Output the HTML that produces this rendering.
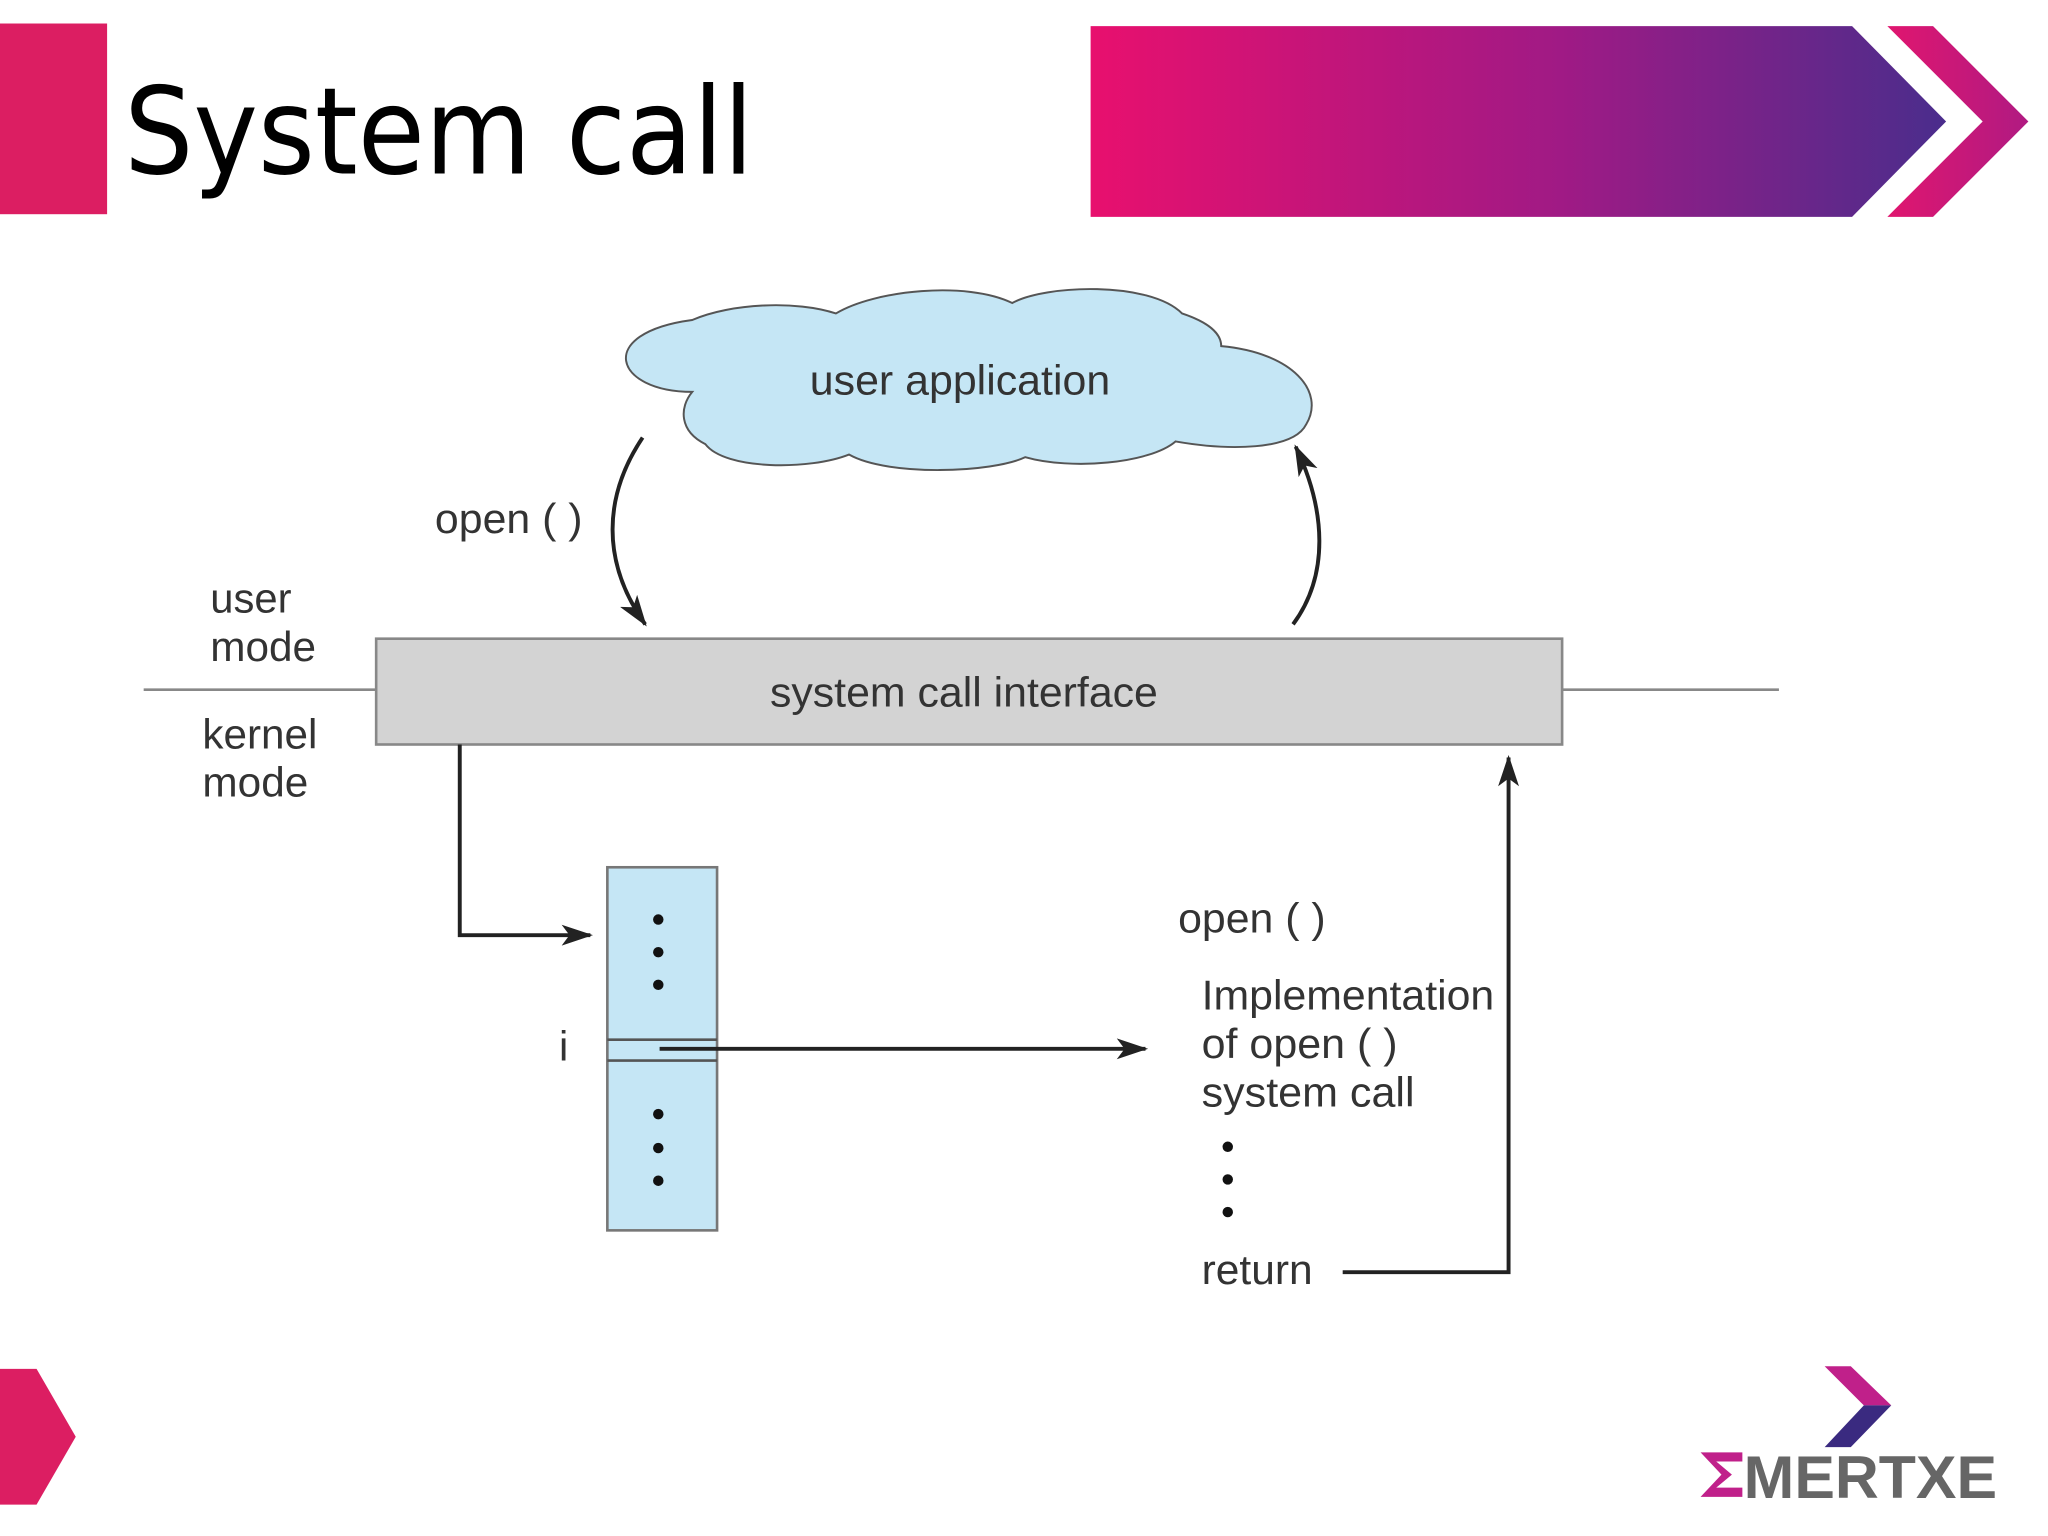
<!DOCTYPE html>
<html><head><meta charset="utf-8"><style>html,body{margin:0;padding:0;background:#fff}svg{display:block}</style></head>
<body>
<svg width="2048" height="1536" viewBox="0 0 1568 1176" xmlns="http://www.w3.org/2000/svg" font-family="Liberation Sans, DejaVu Sans, sans-serif">
<defs>
<linearGradient id="g" x1="0" x2="1" y1="0" y2="0"><stop offset="0" stop-color="#e8106e"/><stop offset="0.55" stop-color="#a01a85"/><stop offset="1" stop-color="#4a2d8c"/></linearGradient>
<linearGradient id="g2" x1="0" x2="1"><stop offset="0" stop-color="#e0166f"/><stop offset="1" stop-color="#b01a82"/></linearGradient>
<marker id="a" viewBox="0 0 24 16" refX="22" refY="8" markerWidth="24" markerHeight="16" markerUnits="userSpaceOnUse" orient="auto"><path d="M0,0 L24,8 L0,16 L6,8 Z" fill="#222"/></marker>
</defs>
<rect x="0" y="18" width="82" height="146" fill="#dc1e62"/>
<text x="95" y="133" font-size="92" font-family="DejaVu Sans, sans-serif" textLength="482" lengthAdjust="spacingAndGlyphs" fill="#000">System call</text>
<polygon points="835,20 1418,20 1490,93 1418,166 835,166" fill="url(#g)"/>
<polygon points="1445,20 1480,20 1553,93 1480,166 1445,166 1518,93" fill="url(#g2)"/>
<polygon points="0,1048 28,1048 58,1100 28,1152 0,1152" fill="#dc1e62"/>
<path d="M530,300 C470,300 455,255 530,245 C560,232 610,230 640,240 C670,222 740,215 775,232 C800,218 880,215 905,240 C935,250 935,262 935,265 C990,270 1015,300 1000,325 C990,345 940,345 900,338 C880,355 820,360 785,350 C760,362 680,365 650,348 C620,360 555,360 540,340 C520,330 520,312 530,300 Z" fill="#c5e6f5" stroke="#555" stroke-width="1.5"/>
<text x="735" y="302" font-size="32" text-anchor="middle" fill="#333" textLength="230" lengthAdjust="spacingAndGlyphs">user application</text>
<path d="M492,335 C462,380 460,430 494,478" fill="none" stroke="#222" stroke-width="3" marker-end="url(#a)"/>
<path d="M990,478 C1018,440 1015,390 992,342" fill="none" stroke="#222" stroke-width="3" marker-end="url(#a)"/>
<text x="333" y="408" font-size="32" fill="#333" textLength="113" lengthAdjust="spacingAndGlyphs">open ( )</text>
<text x="161" y="469" font-size="32" fill="#333">user</text>
<text x="161" y="506" font-size="32" fill="#333" textLength="81" lengthAdjust="spacingAndGlyphs">mode</text>
<text x="155" y="573" font-size="32" fill="#333" textLength="88" lengthAdjust="spacingAndGlyphs">kernel</text>
<text x="155" y="610" font-size="32" fill="#333" textLength="81" lengthAdjust="spacingAndGlyphs">mode</text>
<line x1="110" y1="528" x2="288" y2="528" stroke="#888" stroke-width="2"/>
<line x1="1196" y1="528" x2="1362" y2="528" stroke="#888" stroke-width="2"/>
<rect x="288" y="489" width="908" height="81" fill="#d3d3d3" stroke="#888" stroke-width="2"/>
<text x="738" y="541" font-size="32" text-anchor="middle" fill="#333" textLength="297" lengthAdjust="spacingAndGlyphs">system call interface</text>
<rect x="465" y="664" width="84" height="278" fill="#c5e6f5" stroke="#777" stroke-width="2"/>
<line x1="465" y1="796" x2="549" y2="796" stroke="#555" stroke-width="2"/>
<line x1="465" y1="812" x2="549" y2="812" stroke="#555" stroke-width="2"/>
<g fill="#111"><circle cx="504" cy="704" r="4"/><circle cx="504" cy="729" r="4"/><circle cx="504" cy="754" r="4"/><circle cx="504" cy="853" r="4"/><circle cx="504" cy="879" r="4"/><circle cx="504" cy="904" r="4"/>
<circle cx="940" cy="878" r="4"/><circle cx="940" cy="903" r="4"/><circle cx="940" cy="928" r="4"/></g>
<text x="428" y="812" font-size="32" fill="#333">i</text>
<path d="M352,570 L352,716 L452,716" fill="none" stroke="#222" stroke-width="3" marker-end="url(#a)"/>
<path d="M505,803 L877,803" fill="none" stroke="#222" stroke-width="3" marker-end="url(#a)"/>
<path d="M1028,974 L1155,974 L1155,580" fill="none" stroke="#222" stroke-width="3" marker-end="url(#a)"/>
<text x="902" y="714" font-size="32" fill="#333" textLength="113" lengthAdjust="spacingAndGlyphs">open ( )</text>
<text x="920" y="773" font-size="32" fill="#333" textLength="224" lengthAdjust="spacingAndGlyphs">Implementation</text>
<text x="920" y="810" font-size="32" fill="#333" textLength="150" lengthAdjust="spacingAndGlyphs">of open ( )</text>
<text x="920" y="847" font-size="32" fill="#333" textLength="163" lengthAdjust="spacingAndGlyphs">system call</text>
<text x="920" y="983" font-size="32" fill="#333" textLength="85" lengthAdjust="spacingAndGlyphs">return</text>
<polygon points="1397,1046 1417,1046 1448,1076 1427,1076" fill="#c0208a"/>
<polygon points="1427,1076 1448,1076 1417,1108 1397,1108" fill="#3a2a80"/>
<polygon points="1302,1112 1334,1112 1334,1119 1314,1119 1326,1129 1314,1139 1334,1139 1334,1146 1302,1146 1318,1129" fill="#c0208a"/>
<text x="1335" y="1147" font-size="46" font-weight="bold" fill="#666" textLength="194" lengthAdjust="spacingAndGlyphs">MERTXE</text>
</svg>
</body></html>
